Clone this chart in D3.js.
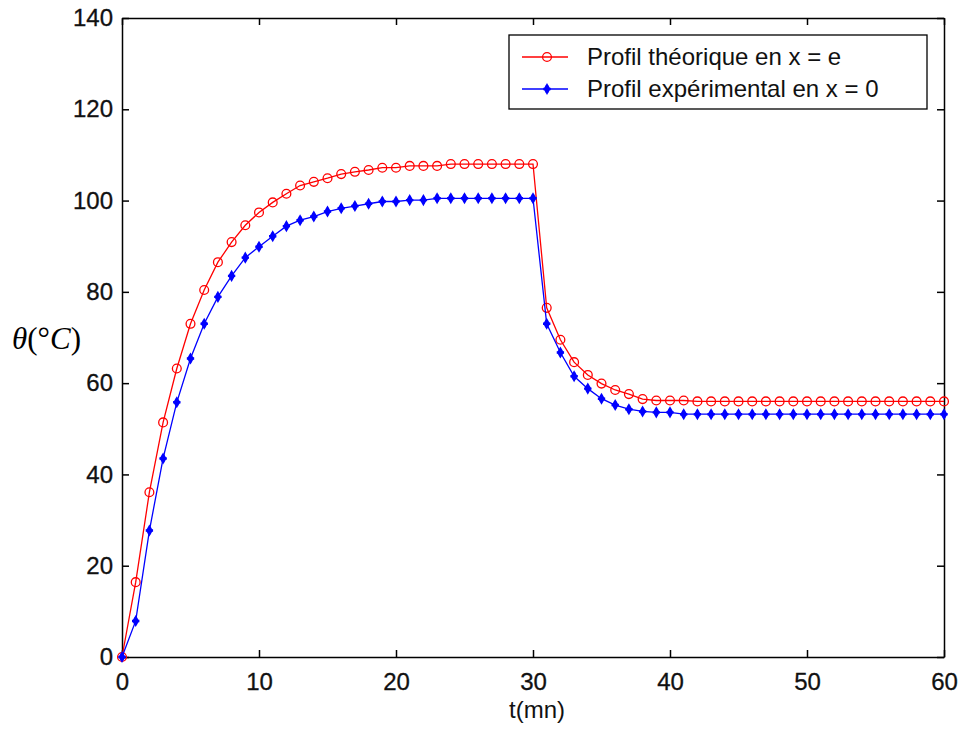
<!DOCTYPE html>
<html><head><meta charset="utf-8">
<script src="https://cdn.jsdelivr.net/npm/d3@7"></script>
<style>body{margin:0;background:#fff}svg{display:block}</style>
</head><body>
<svg id="c" width="959" height="733"></svg>
<script>
const times = d3.range(0, 61);
const theoretical = [0,16.4,36.1,51.4,63.2,73.0,80.4,86.5,90.9,94.6,97.4,99.6,101.5,103.3,104.1,104.9,105.8,106.3,106.7,107.2,107.2,107.6,107.6,107.6,108.0,108.0,108.0,108.0,108.0,108.0,108.0,
76.5,69.5,64.6,61.8,59.9,58.5,57.6,56.5,56.2,56.2,56.2,56.0,56.0,56.0,56.0,56.0,56.0,56.0,56.0,56.0,56.0,56.0,56.0,56.0,56.0,56.0,56.0,56.0,56.0,56.0];
const experimental = [0,7.9,27.7,43.5,55.8,65.4,73.0,78.9,83.5,87.5,89.9,92.2,94.4,95.7,96.5,97.6,98.3,98.8,99.3,99.8,99.8,100.1,100.1,100.5,100.5,100.5,100.5,100.5,100.5,100.5,100.5,
73.0,66.7,61.5,58.8,56.6,55.2,54.3,53.8,53.6,53.6,53.2,53.2,53.2,53.2,53.2,53.2,53.2,53.2,53.2,53.2,53.2,53.2,53.2,53.2,53.2,53.2,53.2,53.2,53.2,53.2];
const xTicks = [0,10,20,30,40,50,60];
const yTicks = [0,20,40,60,80,100,120,140];
const legendLabels = ["Profil théorique en x = e", "Profil expérimental en x = 0"];

const svg = d3.select("#c");
const L = 122, R = 944, T = 18, B = 657;
const x = d3.scaleLinear().domain([0,60]).range([L,R]);
const y = d3.scaleLinear().domain([0,140]).range([B,T]);
const font = "'Liberation Sans', Arial, sans-serif";

// axes with inward ticks
const tk = 7;
const ax = svg.append("g").attr("font-family", font);
ax.append("g").attr("transform",`translate(0,${B})`)
  .call(d3.axisBottom(x).tickValues(xTicks).tickSizeInner(-tk).tickSizeOuter(0).tickPadding(16));
ax.append("g").attr("transform",`translate(0,${T})`)
  .call(d3.axisTop(x).tickValues(xTicks).tickSizeInner(-tk).tickSizeOuter(0).tickFormat(""));
ax.append("g").attr("transform",`translate(${L},0)`)
  .call(d3.axisLeft(y).tickValues(yTicks).tickSizeInner(-tk).tickSizeOuter(0).tickPadding(9));
ax.append("g").attr("transform",`translate(${R},0)`)
  .call(d3.axisRight(y).tickValues(yTicks).tickSizeInner(-tk).tickSizeOuter(0).tickFormat(""));
ax.selectAll(".domain").attr("stroke","#000").attr("stroke-width",1.5);
ax.selectAll(".tick line").attr("stroke","#000").attr("stroke-width",1.5);
ax.selectAll(".tick text").attr("font-size",24).attr("fill","#111").attr("font-family",font)
  .attr("stroke","#111").attr("stroke-width",0.3);

// series
const line = d3.line().x((d,i)=>x(times[i])).y(d=>y(d));
const series = [
  {vals: theoretical, color:"#ff0000", marker:"circle"},
  {vals: experimental, color:"#0000ff", marker:"star"}
];
const plot = svg.append("g");
function drawMarker(g, type, color, cx, cy){
  if(type==="circle"){
    g.append("circle").attr("cx",cx).attr("cy",cy).attr("r",4.4).attr("fill","none").attr("stroke",color).attr("stroke-width",1.3);
  } else {
    g.append("path").attr("d", d3.symbol().type(d3.symbolDiamond).size(42)()).attr("transform",`translate(${cx},${cy})`).attr("fill",color);
    g.append("path").attr("d", d3.symbol().type(d3.symbolCross).size(30)()).attr("transform",`translate(${cx},${cy})`).attr("fill",color);
  }
}
series.forEach(s=>{
  plot.append("path").datum(s.vals).attr("d",line).attr("fill","none").attr("stroke",s.color).attr("stroke-width",1.3);
  const mg = plot.append("g");
  s.vals.forEach((v,i)=>drawMarker(mg, s.marker, s.color, x(times[i]), y(v)));
});

// legend
const lg = svg.append("g");
lg.append("rect").attr("x",509).attr("y",35).attr("width",418).attr("height",74).attr("fill","#fff").attr("stroke","#000").attr("stroke-width",1.3);
series.forEach((s,i)=>{
  const ly = 57 + i*32;
  lg.append("line").attr("x1",522).attr("x2",568).attr("y1",ly).attr("y2",ly).attr("stroke",s.color).attr("stroke-width",1.3);
  drawMarker(lg, s.marker, s.color, 547, ly);
  lg.append("text").attr("x",587).attr("y",ly+7.5).attr("font-family",font).attr("font-size",24).attr("fill","#111").text(legendLabels[i]);
});

// axis labels
svg.append("text").attr("x",537).attr("y",718).attr("text-anchor","middle").attr("font-family",font).attr("font-size",24).attr("fill","#111").text("t(mn)");
const yl = svg.append("text").attr("x",12).attr("y",349).attr("font-family","'Liberation Serif','Times New Roman',serif").attr("font-size",31).attr("fill","#000");
yl.append("tspan").attr("font-style","italic").text("θ");
yl.append("tspan").text("(°");
yl.append("tspan").attr("font-style","italic").text("C");
yl.append("tspan").text(")");
</script>
</body></html>
